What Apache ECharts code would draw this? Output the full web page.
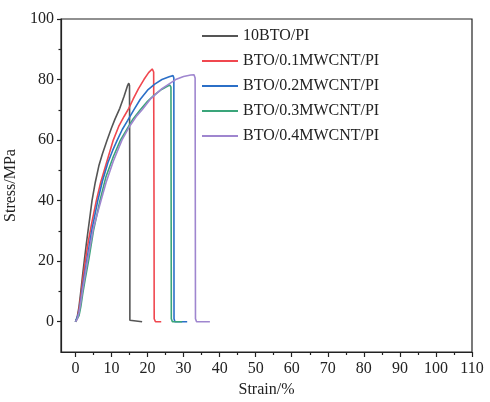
<!DOCTYPE html>
<html lang="en">
<head>
  <meta charset="UTF-8">
  <title>Stress-Strain</title>
  <script src="https://cdn.jsdelivr.net/npm/echarts@6/dist/echarts.min.js"></script>
  <style>
    html, body { margin: 0; padding: 0; background: #fff; }
    #main { width: 490px; height: 402px; }
  </style>
</head>
<body>
<div id="main"></div>
<script>
// strain (%), stress (MPa)
var names = ['10BTO/PI', 'BTO/0.1MWCNT/PI', 'BTO/0.2MWCNT/PI', 'BTO/0.3MWCNT/PI', 'BTO/0.4MWCNT/PI'];
var colors = ['#555555', '#f0474f', '#2b6fc7', '#3aa57a', '#9f86cf'];

var bto = [[0,0],[0.5,1.5],[1,5],[1.5,10],[2,15.5],[2.5,20.5],[3,25.5],[3.5,30],[4,34.5],[4.6,40],[5.5,46],[6.5,51.5],[7.5,55.5],[8.8,60],[10,64],[11,67],[12.3,70.5],[13.5,74.5],[14.4,77.8],[14.8,78.8],[15.0,78],[15.1,40],[15.1,0.5],[15.4,0],[18.5,0]];
var cnt01 = [[0,0],[0.5,1],[1,4],[1.5,8.5],[2,13.5],[2.8,20.5],[3.5,26],[4.5,32.5],[5.8,40],[7,46],[8.5,52],[10.5,60],[12,64.5],[13.5,67.8],[14.8,70.5],[16,73.5],[17.5,77],[19,80],[20.3,82.3],[21.3,83.5],[21.7,82.5],[21.8,40],[21.85,1],[22.2,0],[23.8,0]];
var cnt02 = [[0,0],[0.5,0.5],[1,3],[1.5,7],[2,11.5],[3.2,20.5],[4.5,30],[6.2,40],[7.5,46.5],[9,52.5],[10.3,56.5],[11.6,60],[13,63.5],[14.5,66.5],[16.2,70],[18,73.5],[20,76.5],[22,78.5],[24,80],[26,80.9],[27.1,81.3],[27.3,80.5],[27.35,1],[27.6,0],[31,0]];
var cnt03 = [[0,0],[0.5,0.3],[1,2],[1.5,5],[2,9],[2.7,14],[3.7,20.5],[5,30],[6.8,40],[8.5,48],[10.5,54.5],[12.5,60],[14.5,64],[16,67],[18,70],[20,72.8],[22,75],[24,76.8],[25.5,77.8],[26.2,78.2],[26.5,77.5],[26.6,1],[26.9,0],[29.6,0]];
var cnt04 = [[0,0],[0.5,0.8],[1,3],[1.5,6.5],[2,10.5],[3.4,20.5],[5,31],[7.1,40],[8.5,46],[10.5,53],[12.9,60],[15,64.5],[17,68],[18.5,70],[21,73.8],[24,77],[27.8,80],[30,81],[32,81.5],[32.9,81.6],[33.2,80.5],[33.3,1],[33.6,0],[37.3,0]];

var xMajor = [0,10,20,30,40,50,60,70,80,90,100,110];
var xMinor = [5,15,25,35,45,55,65,75,85,95,105];
var yMajor = [0,20,40,60,80,100];
var yMinor = [10,30,50,70,90];

var X_MIN = -4, X_MAX = 110, Y_MIN = -10, Y_MAX = 100;

var chart = echarts.init(document.getElementById('main'));
var font = 'Liberation Serif';
var allData = [bto, cnt01, cnt02, cnt03, cnt04];

var series = allData.map(function (d, i) {
  return {
    name: names[i],
    type: 'line',
    data: d,
    symbol: 'none',
    lineStyle: { width: 1.6, color: colors[i] },
    itemStyle: { color: colors[i] }
  };
});

function tick(len, vals) {
  return { show: true, length: len, customValues: vals, lineStyle: { color: '#222', width: 1.2 } };
}

var option = {
  backgroundColor: '#fff',
  animation: false,
  grid: {
    left: 61, right: 18, top: 19, bottom: 50,
    outerBoundsMode: 'none',
    show: true, borderColor: '#222', borderWidth: 1.2
  },
  legend: {
    orient: 'vertical',
    left: 196, top: 23,
    itemWidth: 36, itemHeight: 14, itemGap: 9,
    itemStyle: { opacity: 0 },
    textStyle: { fontFamily: font, fontSize: 16, color: '#222' },
    data: names
  },
  xAxis: [{
    type: 'value', min: X_MIN, max: X_MAX,
    name: 'Strain/%', nameLocation: 'middle', nameGap: 29,
    nameTextStyle: { fontFamily: font, fontSize: 16, color: '#222' },
    axisLine: { show: true, onZero: false, lineStyle: { color: '#222', width: 1.2 } },
    axisTick: tick(5, xMajor),
    axisLabel: { customValues: xMajor, fontFamily: font, fontSize: 16, color: '#222', margin: 9 },
    splitLine: { show: false }
  }, {
    type: 'value', min: X_MIN, max: X_MAX, position: 'bottom',
    axisLine: { show: false, onZero: false },
    axisTick: tick(3, xMinor),
    axisLabel: { show: false },
    splitLine: { show: false }
  }],
  yAxis: [{
    type: 'value', min: Y_MIN, max: Y_MAX,
    name: 'Stress/MPa', nameLocation: 'middle', nameGap: 37,
    nameTextStyle: { fontFamily: font, fontSize: 16, color: '#222' },
    axisLine: { show: true, onZero: false, lineStyle: { color: '#222', width: 1.2 } },
    axisTick: tick(4, yMajor),
    axisLabel: { customValues: yMajor, fontFamily: font, fontSize: 16, color: '#222', margin: 7 },
    splitLine: { show: false }
  }, {
    type: 'value', min: Y_MIN, max: Y_MAX, position: 'left',
    axisLine: { show: false, onZero: false },
    axisTick: tick(2.5, yMinor),
    axisLabel: { show: false },
    splitLine: { show: false }
  }],
  series: series
};

chart.setOption(option);
</script>
</body>
</html>
